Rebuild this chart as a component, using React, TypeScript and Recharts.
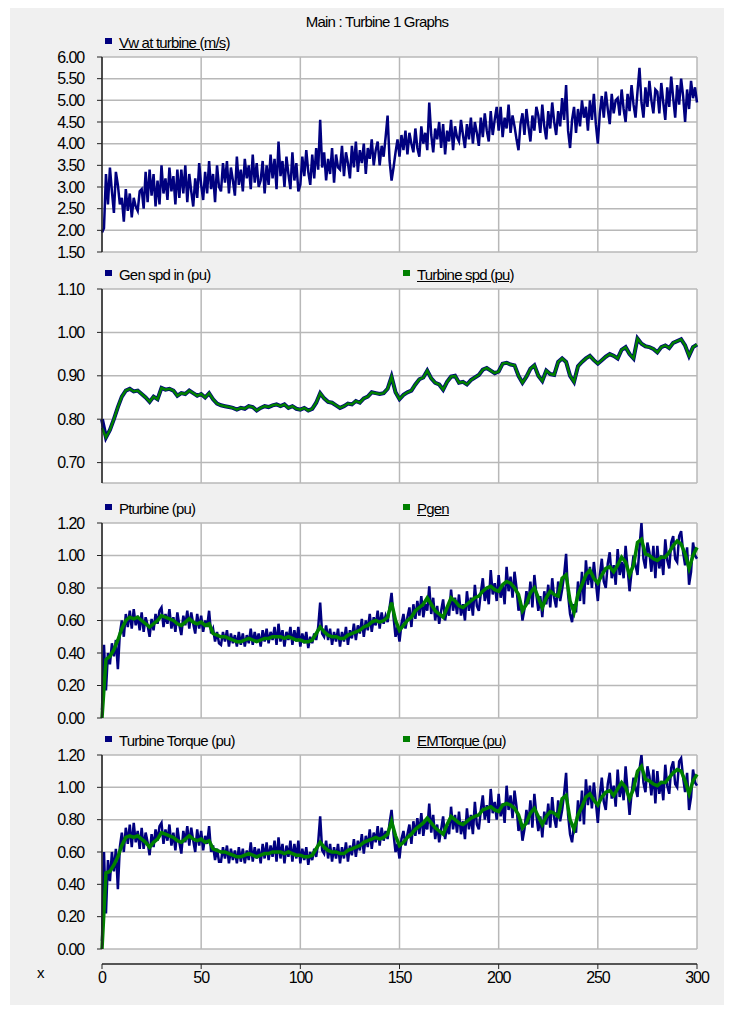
import { CartesianGrid, Line, LineChart, XAxis, YAxis } from "recharts";

// time axis for the smooth traces (s)
const TIME = [
  0, 2, 4, 6, 8, 10, 12, 14, 16, 18, 20, 22, 24, 26, 28, 30, 32, 34, 36, 38,
  40, 42, 44, 46, 48, 50, 52, 54, 56, 58, 60, 62, 64, 66, 68, 70, 72, 74, 76, 78,
  80, 82, 84, 86, 88, 90, 92, 94, 96, 98, 100, 102, 104, 106, 108, 110, 112, 114, 116, 118,
  120, 122, 124, 126, 128, 130, 132, 134, 136, 138, 140, 142, 144, 146, 148, 150, 152, 154, 156, 158,
  160, 162, 164, 166, 168, 170, 172, 174, 176, 178, 180, 182, 184, 186, 188, 190, 192, 194, 196, 198,
  200, 202, 204, 206, 208, 210, 212, 214, 216, 218, 220, 222, 224, 226, 228, 230, 232, 234, 236, 238,
  240, 242, 244, 246, 248, 250, 252, 254, 256, 258, 260, 262, 264, 266, 268, 270, 272, 274, 276, 278,
  280, 282, 284, 286, 288, 290, 292, 294, 296, 298, 300,
];

// time axis for the noisy traces (s)
const TIME_FINE = [
  0, 1, 2, 3, 4, 5, 6, 7, 8, 9, 10, 11, 12, 13, 14, 15, 16, 17, 18, 19,
  20, 21, 22, 23, 24, 25, 26, 27, 28, 29, 30, 31, 32, 33, 34, 35, 36, 37, 38, 39,
  40, 41, 42, 43, 44, 45, 46, 47, 48, 49, 50, 51, 52, 53, 54, 55, 56, 57, 58, 59,
  60, 61, 62, 63, 64, 65, 66, 67, 68, 69, 70, 71, 72, 73, 74, 75, 76, 77, 78, 79,
  80, 81, 82, 83, 84, 85, 86, 87, 88, 89, 90, 91, 92, 93, 94, 95, 96, 97, 98, 99,
  100, 101, 102, 103, 104, 105, 106, 107, 108, 109, 110, 111, 112, 113, 114, 115, 116, 117, 118, 119,
  120, 121, 122, 123, 124, 125, 126, 127, 128, 129, 130, 131, 132, 133, 134, 135, 136, 137, 138, 139,
  140, 141, 142, 143, 144, 145, 146, 147, 148, 149, 150, 151, 152, 153, 154, 155, 156, 157, 158, 159,
  160, 161, 162, 163, 164, 165, 166, 167, 168, 169, 170, 171, 172, 173, 174, 175, 176, 177, 178, 179,
  180, 181, 182, 183, 184, 185, 186, 187, 188, 189, 190, 191, 192, 193, 194, 195, 196, 197, 198, 199,
  200, 201, 202, 203, 204, 205, 206, 207, 208, 209, 210, 211, 212, 213, 214, 215, 216, 217, 218, 219,
  220, 221, 222, 223, 224, 225, 226, 227, 228, 229, 230, 231, 232, 233, 234, 235, 236, 237, 238, 239,
  240, 241, 242, 243, 244, 245, 246, 247, 248, 249, 250, 251, 252, 253, 254, 255, 256, 257, 258, 259,
  260, 261, 262, 263, 264, 265, 266, 267, 268, 269, 270, 271, 272, 273, 274, 275, 276, 277, 278, 279,
  280, 281, 282, 283, 284, 285, 286, 287, 288, 289, 290, 291, 292, 293, 294, 295, 296, 297, 298, 299,
  300,
];

const X_TICKS = [0, 50, 100, 150, 200, 250, 300];

// Vw at turbine (m/s), 1 s steps
const VW = [
  1.95, 2.05, 3.3, 2.6, 3.45, 2.9, 2.4, 3.35, 3.05, 2.6, 2.75, 2.2, 2.95, 2.45, 2.85, 2.3, 2.75, 2.55, 2.45, 2.9,
  2.95, 2.5, 3.35, 2.65, 3.4, 2.8, 3.3, 2.55, 3.15, 2.6, 3.5, 2.85, 3.2, 2.7, 3.45, 2.9, 3.25, 2.6, 3.4, 2.75,
  3.4, 2.85, 3.5, 2.65, 3.3, 2.9, 2.55, 3.2, 2.75, 3.55, 3.05, 2.7, 3.35, 2.85, 3.6, 2.95, 3.3, 2.65, 3.5, 3.0,
  2.9, 3.55, 3.1, 3.6, 2.85, 3.45, 3.15, 2.8, 3.7, 3.05, 3.4, 2.9, 3.65, 3.2, 3.5, 2.95, 3.75, 3.1, 3.55, 3.0,
  3.15, 3.6, 2.85, 3.5, 3.05, 3.75, 3.2, 3.65, 2.95, 4.05, 3.25, 3.6, 3.0, 3.7, 3.3, 2.95, 3.8, 3.15, 3.55, 2.9,
  3.05, 3.7, 3.25, 3.85, 3.35, 3.05, 3.75, 3.2, 3.9, 3.4, 4.55, 3.45, 3.8, 3.15, 3.65, 3.3, 3.9, 3.1, 3.75, 3.45,
  3.4, 3.95, 3.25, 3.8, 3.55, 3.2, 3.95, 3.45, 4.05, 3.35, 3.85, 3.55, 4.0, 3.3, 3.9, 3.65, 4.1, 3.5, 3.85, 4.05,
  3.5, 3.95, 3.7, 4.15, 4.65, 3.6, 3.15, 3.45, 3.8, 4.1, 3.7, 4.2, 3.85, 4.3, 3.75, 4.25, 4.0, 3.8, 4.35, 3.9,
  3.7, 4.4, 4.0, 4.25, 3.85, 4.95, 4.2, 3.8, 4.35, 4.1, 4.5, 3.9, 4.45, 3.75, 4.3, 4.05, 4.55, 3.85, 4.4, 4.15,
  4.05, 4.55, 4.2, 3.9, 4.45, 4.1, 4.6, 4.0, 4.5, 4.25, 3.95, 4.6, 4.15, 4.7, 4.3, 4.05, 4.75, 4.2, 4.55, 4.85,
  4.3, 4.85, 4.15, 4.6, 4.35, 4.9, 4.25, 4.65, 4.4, 4.1, 3.85, 4.45, 4.7, 4.2, 4.8, 4.4, 4.05, 4.65, 4.3, 4.85,
  4.65, 4.25, 4.9, 4.4, 4.1, 4.75, 4.35, 4.95, 4.5, 4.2, 4.75, 4.4, 5.05, 4.55, 5.35, 4.3, 3.9, 4.55, 4.85, 4.25,
  4.8, 4.4, 5.0, 4.6, 4.85, 4.3, 5.0, 4.55, 5.15, 4.45, 4.0, 4.7, 5.1, 4.6, 5.2, 4.8, 4.45, 5.15, 4.7, 5.0,
  5.05, 4.65, 5.25, 4.8, 4.5, 5.15, 4.75, 5.35, 4.9, 4.6, 5.2, 5.75, 4.95, 4.6, 5.3, 4.85, 5.45, 5.0, 4.7, 5.25,
  5.2, 4.7, 5.4, 4.95, 4.55, 5.3, 4.85, 5.55, 5.05, 4.6, 5.35, 4.9, 5.5, 5.1, 4.5, 5.25, 4.8, 5.45, 5.05, 5.3,
  4.95,
];

// Gen spd in (pu), 2 s steps
const GEN_SPD = [
  0.8, 0.758, 0.775, 0.8, 0.828, 0.852, 0.866, 0.87, 0.864, 0.866,
  0.858, 0.85, 0.84, 0.852, 0.846, 0.872, 0.868, 0.87, 0.866, 0.854,
  0.86, 0.858, 0.866, 0.86, 0.854, 0.858, 0.85, 0.86, 0.846, 0.836,
  0.832, 0.83, 0.828, 0.826, 0.822, 0.826, 0.824, 0.83, 0.828, 0.82,
  0.826, 0.83, 0.828, 0.832, 0.834, 0.83, 0.834, 0.826, 0.83, 0.824,
  0.822, 0.826, 0.82, 0.824, 0.838, 0.86, 0.848, 0.84, 0.838, 0.832,
  0.826, 0.83, 0.836, 0.834, 0.842, 0.838, 0.848, 0.852, 0.862, 0.86,
  0.858, 0.86, 0.87, 0.898, 0.862, 0.846, 0.856, 0.862, 0.866, 0.88,
  0.892, 0.896, 0.912, 0.894, 0.884, 0.88, 0.868, 0.886, 0.898, 0.9,
  0.884, 0.886, 0.88, 0.89, 0.896, 0.902, 0.914, 0.918, 0.912, 0.906,
  0.91, 0.928, 0.93, 0.926, 0.924, 0.9, 0.884, 0.898, 0.916, 0.924,
  0.9, 0.888, 0.912, 0.904, 0.902, 0.932, 0.94, 0.932, 0.9, 0.886,
  0.922, 0.932, 0.94, 0.946, 0.936, 0.928, 0.936, 0.944, 0.95, 0.946,
  0.94, 0.96, 0.966, 0.95, 0.94, 0.986, 0.974, 0.968, 0.966, 0.962,
  0.954, 0.966, 0.97, 0.964, 0.976, 0.98, 0.984, 0.97, 0.946, 0.966,
  0.972,
];

// Turbine spd (pu), 2 s steps
const TURBINE_SPD = [
  0.78, 0.758, 0.775, 0.8, 0.828, 0.852, 0.866, 0.87, 0.864, 0.866,
  0.858, 0.85, 0.84, 0.852, 0.846, 0.872, 0.868, 0.87, 0.866, 0.854,
  0.86, 0.858, 0.866, 0.86, 0.854, 0.858, 0.85, 0.86, 0.846, 0.836,
  0.832, 0.83, 0.828, 0.826, 0.822, 0.826, 0.824, 0.83, 0.828, 0.82,
  0.826, 0.83, 0.828, 0.832, 0.834, 0.83, 0.834, 0.826, 0.83, 0.824,
  0.822, 0.826, 0.82, 0.824, 0.838, 0.86, 0.848, 0.84, 0.838, 0.832,
  0.826, 0.83, 0.836, 0.834, 0.842, 0.838, 0.848, 0.852, 0.862, 0.86,
  0.858, 0.86, 0.87, 0.898, 0.862, 0.846, 0.856, 0.862, 0.866, 0.88,
  0.892, 0.896, 0.912, 0.894, 0.884, 0.88, 0.868, 0.886, 0.898, 0.9,
  0.884, 0.886, 0.88, 0.89, 0.896, 0.902, 0.914, 0.918, 0.912, 0.906,
  0.91, 0.928, 0.93, 0.926, 0.924, 0.9, 0.884, 0.898, 0.916, 0.924,
  0.9, 0.888, 0.912, 0.904, 0.902, 0.932, 0.94, 0.932, 0.9, 0.886,
  0.922, 0.932, 0.94, 0.946, 0.936, 0.928, 0.936, 0.944, 0.95, 0.946,
  0.94, 0.96, 0.966, 0.95, 0.94, 0.986, 0.974, 0.968, 0.966, 0.962,
  0.954, 0.966, 0.97, 0.964, 0.976, 0.98, 0.984, 0.97, 0.946, 0.966,
  0.972,
];

// Pturbine (pu), 1 s steps
const P_TURBINE = [
  0.05, 0.45, 0.17, 0.4, 0.33, 0.46, 0.38, 0.48, 0.3, 0.52, 0.6, 0.5, 0.64, 0.56, 0.66, 0.55, 0.67, 0.57, 0.63, 0.54,
  0.65, 0.53, 0.62, 0.57, 0.5, 0.61, 0.54, 0.64, 0.58, 0.66, 0.68, 0.56, 0.64, 0.58, 0.67, 0.55, 0.62, 0.53, 0.65, 0.57,
  0.51, 0.63, 0.57, 0.66, 0.55, 0.65, 0.58, 0.52, 0.64, 0.55, 0.63, 0.53, 0.6, 0.56, 0.66, 0.52, 0.55, 0.47, 0.53, 0.46,
  0.45, 0.53, 0.47, 0.54, 0.44, 0.52, 0.46, 0.51, 0.44, 0.53, 0.45, 0.52, 0.44, 0.51, 0.46, 0.55, 0.45, 0.53, 0.47, 0.52,
  0.44, 0.54, 0.47, 0.55, 0.46, 0.53, 0.48, 0.56, 0.45, 0.58, 0.47, 0.54, 0.44, 0.53, 0.48, 0.56, 0.45, 0.54, 0.47, 0.56,
  0.44, 0.52, 0.46, 0.53, 0.43, 0.5, 0.46, 0.52, 0.48, 0.56, 0.71, 0.52, 0.5, 0.57, 0.48, 0.55, 0.45, 0.53, 0.47, 0.55,
  0.44, 0.53, 0.47, 0.56, 0.45, 0.54, 0.49, 0.58, 0.48, 0.57, 0.52, 0.61, 0.5, 0.6, 0.54, 0.64, 0.53, 0.62, 0.57, 0.66,
  0.55, 0.65, 0.58, 0.63, 0.59, 0.68, 0.77, 0.62, 0.5, 0.56, 0.47, 0.58, 0.64, 0.55, 0.62, 0.68, 0.56, 0.7, 0.61, 0.72,
  0.63, 0.75, 0.62, 0.7, 0.66, 0.81, 0.64, 0.74, 0.6, 0.69, 0.58, 0.66, 0.73, 0.6, 0.68, 0.63, 0.79, 0.66, 0.74, 0.64,
  0.76, 0.63, 0.7, 0.6, 0.78, 0.66, 0.74, 0.63, 0.82, 0.69, 0.66, 0.77, 0.86, 0.72, 0.8, 0.7, 0.91, 0.76, 0.83, 0.72,
  0.88, 0.74, 0.82, 0.7, 0.93, 0.78, 0.87, 0.74, 0.9, 0.8, 0.66, 0.72, 0.6, 0.67, 0.78, 0.7, 0.84, 0.68, 0.88, 0.76,
  0.66, 0.75, 0.62, 0.78, 0.7, 0.82, 0.68, 0.86, 0.74, 0.68, 0.84, 0.72, 0.79, 0.88, 1.01, 0.76, 0.64, 0.59, 0.7, 0.65,
  0.84, 0.72, 0.9, 0.7, 0.97, 0.82, 0.93, 0.8, 0.96, 0.84, 0.72, 0.88, 0.98, 0.84, 0.8, 0.95, 1.02, 0.86, 0.94, 0.82,
  1.04, 0.88, 0.96, 0.86, 1.06, 0.92, 0.78, 0.9, 1.0, 0.94, 0.88, 1.05, 1.2, 0.98, 0.92, 1.08, 1.02, 0.9, 1.06, 0.86,
  1.06, 0.92, 1.0, 0.88, 1.1, 0.97, 0.92, 1.08, 1.12, 0.98, 0.96, 1.12, 1.15, 1.02, 0.94, 1.05, 0.82, 0.9, 1.08, 1.0,
  0.98,
];

// Pgen, 2 s steps
const P_GEN = [
  0.0, 0.36, 0.38, 0.42, 0.48, 0.55, 0.6, 0.62, 0.61, 0.62,
  0.6, 0.58, 0.56, 0.58, 0.6, 0.63, 0.62, 0.61, 0.6, 0.58,
  0.57, 0.59, 0.61, 0.59, 0.58, 0.59, 0.57, 0.58, 0.52, 0.51,
  0.5, 0.5, 0.49, 0.48, 0.47, 0.47, 0.48, 0.49, 0.48, 0.47,
  0.48, 0.49, 0.49, 0.5, 0.5, 0.5, 0.49, 0.5, 0.49, 0.48,
  0.48, 0.47, 0.47, 0.48, 0.52, 0.56, 0.53, 0.51, 0.5, 0.5,
  0.49, 0.49, 0.51, 0.52, 0.53, 0.54, 0.56, 0.57, 0.59, 0.6,
  0.59, 0.6, 0.62, 0.71, 0.6, 0.54, 0.57, 0.6, 0.62, 0.66,
  0.68, 0.7, 0.74, 0.7, 0.66, 0.64, 0.62, 0.68, 0.74, 0.72,
  0.69, 0.68, 0.7, 0.72, 0.74, 0.75, 0.78, 0.8, 0.81, 0.79,
  0.78, 0.82, 0.84, 0.83, 0.8, 0.76, 0.66, 0.7, 0.77, 0.8,
  0.74, 0.68, 0.74, 0.78, 0.76, 0.75, 0.86, 0.88, 0.72, 0.65,
  0.76, 0.82, 0.88, 0.91, 0.86, 0.83, 0.88, 0.92, 0.93, 0.9,
  0.94, 0.99, 0.96, 0.88, 0.94, 1.08, 1.1, 1.01, 1.0, 0.98,
  0.97, 0.99, 0.99, 1.02, 1.06, 1.09, 1.07, 1.01, 0.92, 1.0,
  1.05,
];

// Turbine Torque (pu), 1 s steps
const T_TURBINE = [
  0.05, 0.6, 0.22, 0.55, 0.42, 0.6, 0.48, 0.62, 0.37, 0.63, 0.72, 0.6, 0.75, 0.65, 0.77, 0.63, 0.78, 0.66, 0.73, 0.62,
  0.75, 0.62, 0.72, 0.66, 0.58, 0.71, 0.63, 0.74, 0.67, 0.76, 0.78, 0.65, 0.74, 0.67, 0.77, 0.64, 0.72, 0.61, 0.75, 0.66,
  0.59, 0.73, 0.66, 0.76, 0.64, 0.75, 0.67, 0.6, 0.74, 0.64, 0.73, 0.61, 0.7, 0.65, 0.76, 0.6, 0.64, 0.55, 0.62, 0.54,
  0.54, 0.63, 0.56, 0.64, 0.53, 0.62, 0.55, 0.61, 0.53, 0.63, 0.54, 0.62, 0.53, 0.61, 0.55, 0.66, 0.54, 0.63, 0.56, 0.62,
  0.53, 0.65, 0.56, 0.66, 0.55, 0.64, 0.57, 0.67, 0.54, 0.69, 0.56, 0.65, 0.53, 0.64, 0.57, 0.67, 0.54, 0.65, 0.56, 0.67,
  0.53, 0.62, 0.55, 0.63, 0.52, 0.6, 0.55, 0.62, 0.57, 0.66, 0.82, 0.61, 0.59, 0.67, 0.56, 0.65, 0.54, 0.63, 0.56, 0.65,
  0.53, 0.63, 0.56, 0.66, 0.54, 0.64, 0.58, 0.68, 0.57, 0.67, 0.61, 0.71, 0.59, 0.7, 0.63, 0.74, 0.62, 0.72, 0.66, 0.76,
  0.64, 0.75, 0.67, 0.73, 0.68, 0.78, 0.86, 0.71, 0.6, 0.65, 0.56, 0.68, 0.73, 0.64, 0.71, 0.77, 0.65, 0.79, 0.7, 0.81,
  0.71, 0.84, 0.7, 0.79, 0.74, 0.9, 0.72, 0.83, 0.68, 0.77, 0.66, 0.74, 0.82, 0.68, 0.76, 0.71, 0.88, 0.74, 0.83, 0.72,
  0.85, 0.71, 0.79, 0.68, 0.87, 0.74, 0.83, 0.71, 0.91, 0.77, 0.74, 0.86, 0.95, 0.8, 0.89, 0.78, 0.99, 0.84, 0.91, 0.8,
  0.96, 0.82, 0.9, 0.78, 1.01, 0.86, 0.95, 0.81, 0.98, 0.88, 0.73, 0.8, 0.67, 0.74, 0.86, 0.77, 0.92, 0.75, 0.96, 0.83,
  0.73, 0.82, 0.69, 0.85, 0.77, 0.9, 0.75, 0.94, 0.81, 0.75, 0.92, 0.79, 0.86, 0.96, 1.09, 0.83, 0.71, 0.66, 0.77, 0.72,
  0.92, 0.79, 0.98, 0.77, 1.05, 0.89, 1.01, 0.87, 1.03, 0.91, 0.78, 0.95, 1.06, 0.91, 0.86, 1.02, 1.09, 0.93, 1.01, 0.88,
  1.11, 0.94, 1.03, 0.92, 1.13, 0.98, 0.83, 0.96, 1.06, 1.0, 0.94, 1.11, 1.2, 1.03, 0.97, 1.13, 1.07, 0.95, 1.11, 0.9,
  1.1, 0.96, 1.04, 0.92, 1.14, 1.01, 0.96, 1.12, 1.16, 1.02, 1.0, 1.16, 1.18, 1.06, 0.97, 1.09, 0.86, 0.94, 1.11, 1.03,
  1.01,
];

// EMTorque (pu), 2 s steps
const T_EM = [
  0.0, 0.47, 0.48, 0.52, 0.57, 0.64, 0.69, 0.7, 0.69, 0.7,
  0.68, 0.66, 0.63, 0.66, 0.68, 0.72, 0.71, 0.7, 0.69, 0.67,
  0.66, 0.68, 0.7, 0.68, 0.67, 0.68, 0.66, 0.67, 0.62, 0.61,
  0.6, 0.6, 0.59, 0.58, 0.57, 0.57, 0.58, 0.59, 0.58, 0.57,
  0.58, 0.59, 0.59, 0.6, 0.6, 0.6, 0.59, 0.6, 0.59, 0.58,
  0.58, 0.57, 0.57, 0.58, 0.62, 0.66, 0.63, 0.61, 0.6, 0.6,
  0.59, 0.59, 0.61, 0.62, 0.63, 0.64, 0.66, 0.67, 0.68, 0.69,
  0.68, 0.69, 0.71, 0.79, 0.7, 0.64, 0.66, 0.69, 0.71, 0.74,
  0.76, 0.78, 0.81, 0.78, 0.75, 0.73, 0.71, 0.77, 0.82, 0.8,
  0.78, 0.77, 0.79, 0.81, 0.82, 0.83, 0.86, 0.87, 0.88, 0.86,
  0.85, 0.89, 0.9, 0.89, 0.87, 0.83, 0.75, 0.78, 0.84, 0.87,
  0.82, 0.77, 0.82, 0.85, 0.84, 0.82, 0.93, 0.95, 0.8, 0.74,
  0.83, 0.88, 0.94, 0.96, 0.92, 0.89, 0.94, 0.97, 0.98, 0.95,
  0.99, 1.03, 1.0, 0.93, 0.99, 1.1, 1.13, 1.05, 1.04, 1.02,
  1.01, 1.03, 1.03, 1.06, 1.09, 1.11, 1.1, 1.04, 0.96, 1.04,
  1.08,
];

const fineRows = TIME_FINE.map((t, i) => ({ t, vw: VW[i], pTurb: P_TURBINE[i], tTurb: T_TURBINE[i] }));
const rows = TIME.map((t, i) => ({
  t,
  genSpd: GEN_SPD[i],
  turbSpd: TURBINE_SPD[i],
  pGen: P_GEN[i],
  tEm: T_EM[i],
}));

const BLUE = "#00007f";
const GREEN = "#008000";
const FONT = "'Liberation Sans', Arial, sans-serif";
const tickStyle = { fontSize: 16, fill: "#000", fontFamily: FONT, letterSpacing: -1.1 };

type Series = { key: string; color: string; width: number; fine?: boolean };
type LegendItem = { label: string; color: string; x: number; underline?: boolean };

function Panel({
  plotTop,
  plotHeight,
  domain,
  ticks,
  series,
  legend,
}: {
  plotTop: number;
  plotHeight: number;
  domain: [number, number];
  ticks: number[];
  series: Series[];
  legend: LegendItem[];
}) {
  return (
    <>
      {legend.map((item) => (
        <div
          key={item.label}
          style={{
            position: "absolute",
            left: item.x,
            top: plotTop - 22,
            display: "flex",
            alignItems: "center",
            fontFamily: FONT,
            fontSize: 15,
            letterSpacing: -0.8,
            color: "#000",
            whiteSpace: "nowrap",
            lineHeight: "16px",
          }}
        >
          <span
            style={{ display: "inline-block", width: 7, height: 6, background: item.color, marginRight: 7, marginTop: -5 }}
          />
          <span style={{ textDecoration: item.underline ? "underline" : "none" }}>{item.label}</span>
        </div>
      ))}
      <div style={{ position: "absolute", left: 0, top: plotTop - 10 }}>
        <LineChart width={732} height={plotHeight + 20} margin={{ top: 10, right: 35, bottom: 10, left: 0 }}>
          <CartesianGrid stroke="#b8b8b8" strokeWidth={1.5} fill="#ffffff" />
          <XAxis hide type="number" dataKey="t" domain={[0, 300]} ticks={X_TICKS} allowDuplicatedCategory={false} />
          <YAxis
            type="number"
            domain={domain}
            ticks={ticks}
            interval={0}
            allowDataOverflow
            width={102}
            tickSize={5}
            tickMargin={13}
            tick={tickStyle}
            tickFormatter={(v: number) => v.toFixed(2)}
            axisLine={{ stroke: "#222", strokeWidth: 1.5 }}
            tickLine={{ stroke: "#222" }}
          />
          {series.map((s) => (
            <Line
              key={s.key}
              data={s.fine ? fineRows : rows}
              type="linear"
              dataKey={s.key}
              stroke={s.color}
              strokeWidth={s.width}
              dot={false}
              isAnimationActive={false}
            />
          ))}
        </LineChart>
      </div>
    </>
  );
}

export default function App() {
  return (
    <div style={{ position: "relative", width: 732, height: 1013 }}>
      <style>{`body{margin:0}`}</style>
      <div style={{ position: "absolute", left: 10, top: 8, width: 714, height: 997, background: "#f0f0f0" }} />
      <div
        style={{
          position: "absolute",
          left: 0,
          width: 754,
          top: 13,
          textAlign: "center",
          fontFamily: FONT,
          fontSize: 15,
          letterSpacing: -0.8,
          color: "#000",
        }}
      >
        Main : Turbine 1 Graphs
      </div>

      <Panel
        plotTop={57}
        plotHeight={195}
        domain={[1.5, 6]}
        ticks={[1.5, 2, 2.5, 3, 3.5, 4, 4.5, 5, 5.5, 6]}
        series={[{ key: "vw", color: BLUE, width: 2.5, fine: true }]}
        legend={[{ label: "Vw at turbine (m/s)", color: BLUE, x: 105, underline: true }]}
      />
      <Panel
        plotTop={289}
        plotHeight={194}
        domain={[0.653, 1.1]}
        ticks={[0.7, 0.8, 0.9, 1.0, 1.1]}
        series={[
          { key: "genSpd", color: BLUE, width: 4 },
          { key: "turbSpd", color: GREEN, width: 2.5 },
        ]}
        legend={[
          { label: "Gen spd in (pu)", color: BLUE, x: 105 },
          { label: "Turbine spd (pu)", color: GREEN, x: 403, underline: true },
        ]}
      />
      <Panel
        plotTop={523}
        plotHeight={195}
        domain={[0, 1.2]}
        ticks={[0, 0.2, 0.4, 0.6, 0.8, 1.0, 1.2]}
        series={[
          { key: "pTurb", color: BLUE, width: 2.5, fine: true },
          { key: "pGen", color: GREEN, width: 3.5 },
        ]}
        legend={[
          { label: "Pturbine (pu)", color: BLUE, x: 105 },
          { label: "Pgen", color: GREEN, x: 403, underline: true },
        ]}
      />
      <Panel
        plotTop={755}
        plotHeight={194}
        domain={[0, 1.2]}
        ticks={[0, 0.2, 0.4, 0.6, 0.8, 1.0, 1.2]}
        series={[
          { key: "tTurb", color: BLUE, width: 2.5, fine: true },
          { key: "tEm", color: GREEN, width: 3.5 },
        ]}
        legend={[
          { label: "Turbine Torque (pu)", color: BLUE, x: 105 },
          { label: "EMTorque (pu)", color: GREEN, x: 403, underline: true },
        ]}
      />

      <div style={{ position: "absolute", left: 0, top: 955 }}>
        <LineChart width={732} height={45} data={rows} margin={{ top: 8, right: 35, bottom: 0, left: 102 }}>
          <XAxis
            type="number"
            dataKey="t"
            domain={[0, 300]}
            ticks={X_TICKS}
            interval={0}
            height={36}
            tickSize={5}
            tickMargin={3}
            tick={tickStyle}
            axisLine={{ stroke: "#222", strokeWidth: 1.5 }}
            tickLine={{ stroke: "#222" }}
          />
          <YAxis hide />
        </LineChart>
      </div>
      <div style={{ position: "absolute", left: 37, top: 964, fontFamily: FONT, fontSize: 15, color: "#000" }}>
        x
      </div>
    </div>
  );
}
